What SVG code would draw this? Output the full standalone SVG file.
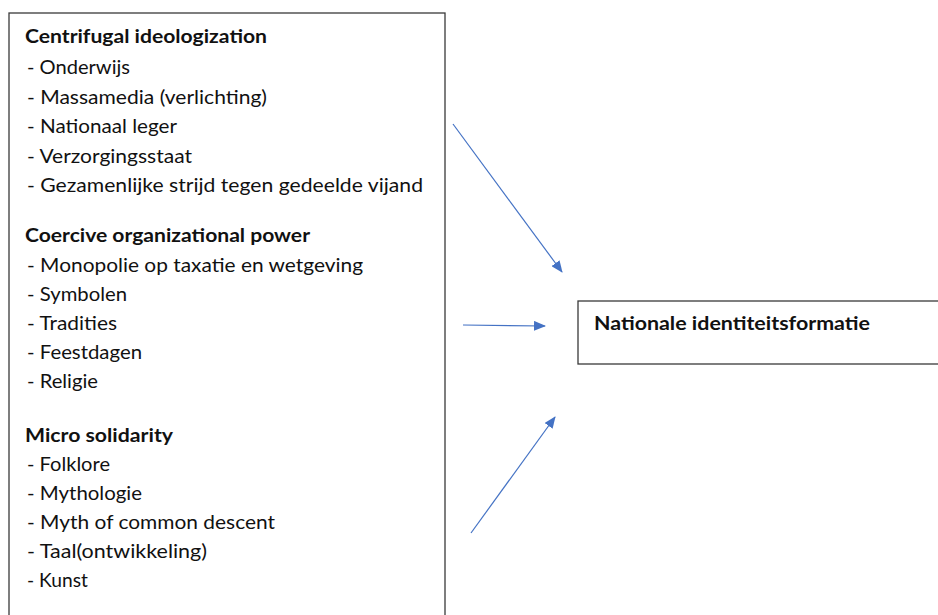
<svg xmlns="http://www.w3.org/2000/svg" width="938" height="615" viewBox="0 0 938 615">
<style>
.box{fill:#fff;stroke:#3a3a3a;stroke-width:1.3}
.t{font-family:Lato,"Open Sans","Liberation Sans",sans-serif;font-size:19px;fill:#111}
.h{font-weight:bold}
.c{stroke:#4472C4;stroke-width:1.2;fill:none;marker-end:url(#ah)}
</style>
<defs>
<marker id="ah" markerUnits="userSpaceOnUse" markerWidth="12" markerHeight="10" refX="11" refY="5" orient="auto">
<path d="M0,0 L12,5 L0,10 z" fill="#4472C4"/>
</marker>
</defs>
<rect width="938" height="615" fill="#fff"/>
<g id="factors">
<rect class="box" x="9" y="13" width="436" height="610"/>
<text class="t h" x="25" y="43" textLength="242" lengthAdjust="spacingAndGlyphs">Centrifugal ideologization</text>
<text class="t" x="27" y="74" textLength="103" lengthAdjust="spacingAndGlyphs">- Onderwijs</text>
<text class="t" x="27" y="104" textLength="240" lengthAdjust="spacingAndGlyphs">- Massamedia (verlichting)</text>
<text class="t" x="27" y="133" textLength="150" lengthAdjust="spacingAndGlyphs">- Nationaal leger</text>
<text class="t" x="27" y="163" textLength="165" lengthAdjust="spacingAndGlyphs">- Verzorgingsstaat</text>
<text class="t" x="27" y="192" textLength="396" lengthAdjust="spacingAndGlyphs">- Gezamenlijke strijd tegen gedeelde vijand</text>
<text class="t h" x="25" y="242" textLength="285" lengthAdjust="spacingAndGlyphs">Coercive organizational power</text>
<text class="t" x="27" y="272" textLength="336" lengthAdjust="spacingAndGlyphs">- Monopolie op taxatie en wetgeving</text>
<text class="t" x="27" y="301" textLength="100" lengthAdjust="spacingAndGlyphs">- Symbolen</text>
<text class="t" x="27" y="330" textLength="90" lengthAdjust="spacingAndGlyphs">- Tradities</text>
<text class="t" x="27" y="359" textLength="115" lengthAdjust="spacingAndGlyphs">- Feestdagen</text>
<text class="t" x="27" y="388" textLength="71" lengthAdjust="spacingAndGlyphs">- Religie</text>
<text class="t h" x="25" y="442" textLength="148" lengthAdjust="spacingAndGlyphs">Micro solidarity</text>
<text class="t" x="27" y="471" textLength="83" lengthAdjust="spacingAndGlyphs">- Folklore</text>
<text class="t" x="27" y="500" textLength="115" lengthAdjust="spacingAndGlyphs">- Mythologie</text>
<text class="t" x="27" y="529" textLength="248" lengthAdjust="spacingAndGlyphs">- Myth of common descent</text>
<text class="t" x="27" y="558" textLength="180" lengthAdjust="spacingAndGlyphs">- Taal(ontwikkeling)</text>
<text class="t" x="27" y="587" textLength="61" lengthAdjust="spacingAndGlyphs">- Kunst</text>
</g>
<g id="identity">
<rect class="box" x="578" y="301" width="370" height="63"/>
<text class="t h" x="594" y="330" font-size="18" textLength="276" lengthAdjust="spacingAndGlyphs">Nationale identiteitsformatie</text>
</g>
<g id="connectors">
<line class="c" x1="453" y1="124" x2="562" y2="272"/>
<line class="c" x1="463" y1="325" x2="545" y2="326"/>
<line class="c" x1="471" y1="533" x2="555" y2="417"/>
</g>
</svg>
